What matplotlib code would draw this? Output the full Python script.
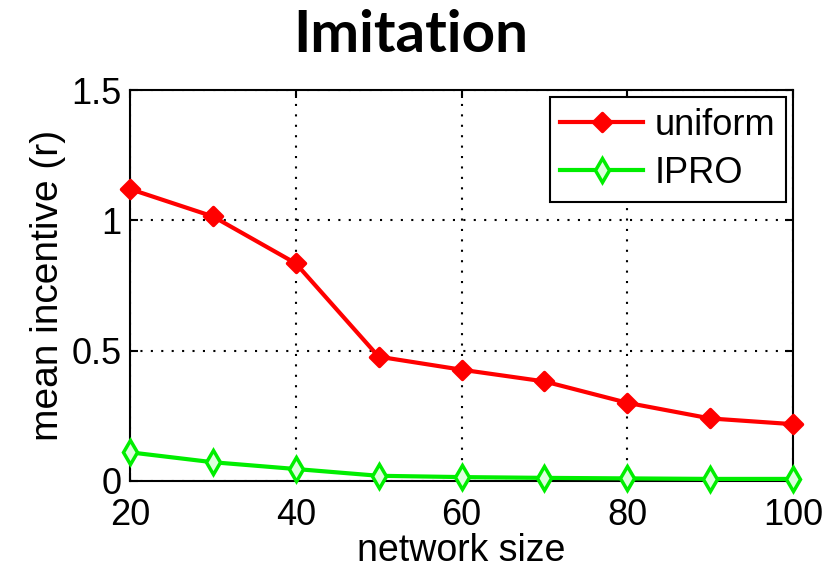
import matplotlib.pyplot as plt
from matplotlib.markers import MarkerStyle

plt.rcParams['font.family'] = ['Liberation Sans', 'DejaVu Sans']

network_size = [20, 30, 40, 50, 60, 70, 80, 90, 100]
uniform = [1.12, 1.015, 0.835, 0.477, 0.427, 0.382, 0.30, 0.24, 0.218]
ipro = [0.11, 0.072, 0.046, 0.02, 0.015, 0.012, 0.01, 0.008, 0.008]

fig = plt.figure(figsize=(8.22, 5.71), dpi=100)
ax = fig.add_axes([130 / 822, 90 / 571, 663 / 822, 391 / 571])

ax.grid(True, linestyle=(0, (1, 4)), color='black', lw=1.5)
ax.plot(network_size, uniform, color='#ff0000', lw=3,
        marker=MarkerStyle('D', joinstyle='round'), ms=9, mew=2.5,
        mfc='#ff0000', mec='#ff0000', label='uniform', clip_on=False, zorder=3)
ax.plot(network_size, ipro, color='#00ee00', lw=3, marker='d', ms=12,
        mfc='#ddffdd', mec='#00ee00', mew=2.5, label='IPRO', clip_on=False, zorder=3)

ax.set_xlim(20, 100)
ax.set_ylim(0, 1.5)
ax.set_xticks([20, 40, 60, 80, 100])
ax.set_yticks([0, 0.5, 1, 1.5])
ax.set_yticklabels(['0', '0.5', '1', '1.5'])
ax.tick_params(labelsize=26, direction='in', length=6, width=1.5, top=True, right=True)
ax.tick_params(axis='x', pad=12)
ax.tick_params(axis='y', pad=6)
for s in ax.spines.values():
    s.set_linewidth(1.5)

ax.set_xlabel('network size', fontsize=27, labelpad=0)
ax.set_ylabel('mean incentive (r)', fontsize=28, labelpad=4)
fig.suptitle('Imitation', x=0.5, y=0.985, fontsize=42, fontweight='bold',
             family=['Lato', 'DejaVu Sans'], va='top')

leg = ax.legend(loc='upper right', fontsize=26, fancybox=False, framealpha=1,
                edgecolor='black', handlelength=2.3, borderpad=0.3,
                labelspacing=0.35, handletextpad=0.3, borderaxespad=0.2)
leg.get_frame().set_linewidth(1.5)

fig.savefig('out.png', dpi=100)
